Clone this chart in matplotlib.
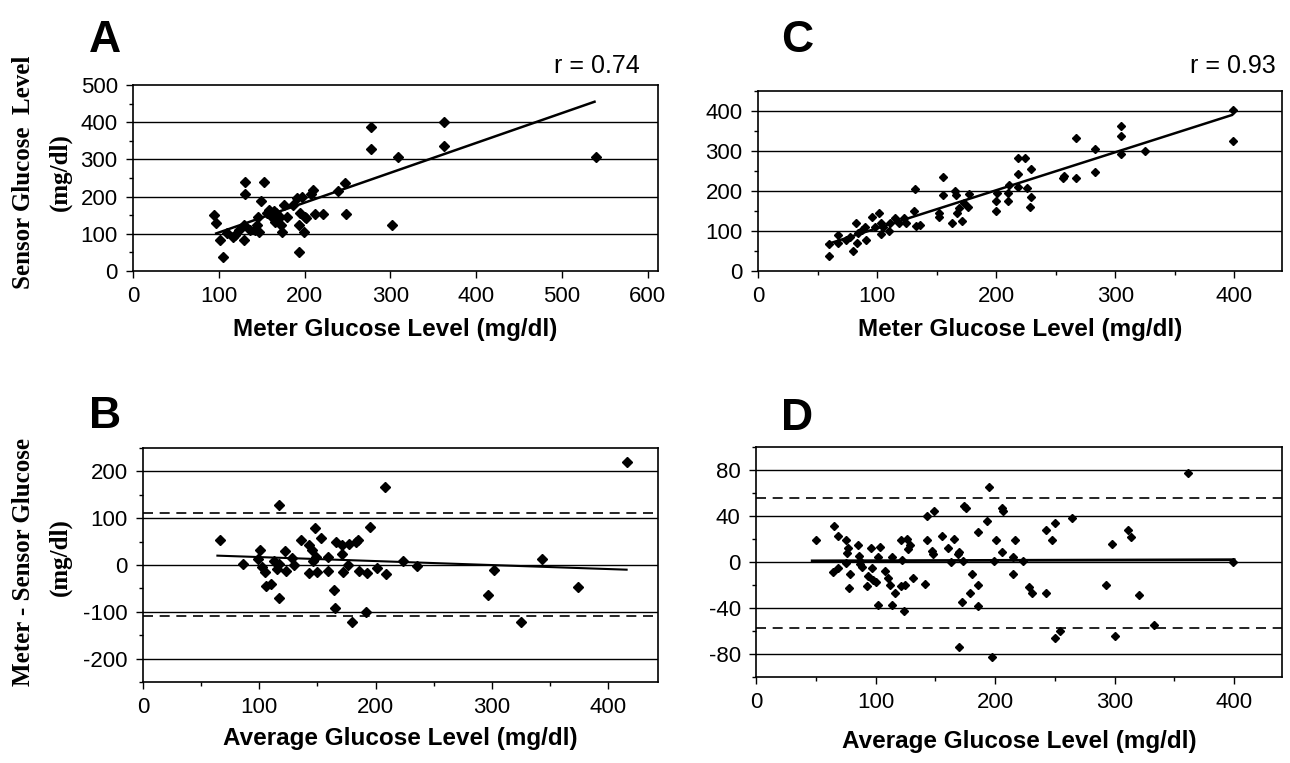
import numpy as np
import matplotlib
matplotlib.use('Agg')
from matplotlib import pyplot as plt
from matplotlib.ticker import MultipleLocator

plt.rcParams['font.family'] = ['Liberation Sans', 'DejaVu Sans']
plt.rcParams['axes.unicode_minus'] = False

# Panel A: meter vs sensor glucose (mg/dl)
a_meter = [94, 97, 101, 105, 110, 117, 119, 123, 129, 129, 131, 131, 136, 142, 144, 146, 147,
           149, 153, 156, 159, 162, 164, 165, 167, 171, 173, 174, 176, 179, 186, 191, 193, 193,
           195, 197, 199, 200, 202, 208, 210, 212, 222, 239, 247, 248, 277, 277, 302, 309, 362,
           362, 540]
a_sensor = [150, 128, 83, 37, 101, 92, 97, 110, 124, 83, 206, 239, 110, 110, 124, 146, 106,
            189, 239, 155, 164, 146, 160, 133, 155, 146, 124, 106, 177, 146, 177, 195, 124, 52,
            155, 200, 106, 146, 142, 207, 218, 153, 153, 216, 236, 153, 386, 329, 125, 306, 400,
            336, 307]
a_fit_x = [97, 538]
a_fit_y = [101, 455]
a_r = 'r = 0.74'

# Panel C: meter vs sensor glucose (mg/dl)
c_meter = [60, 60, 67, 67, 74, 77, 80, 82, 83, 84, 87, 90, 91, 96, 98, 102, 103, 103, 105, 110,
           111, 115, 118, 123, 124, 131, 132, 133, 136, 152, 152, 155, 155, 163, 165, 166, 167,
           169, 171, 173, 176, 177, 200, 200, 201, 210, 210, 211, 218, 218, 218, 224, 226, 228,
           229, 229, 256, 257, 267, 267, 283, 283, 305, 305, 305, 325, 399, 399]
c_sensor = [38, 68, 90, 71, 78, 86, 49, 120, 70, 95, 103, 111, 78, 135, 111, 146, 120, 93, 111,
            99, 120, 132, 120, 132, 121, 149, 206, 113, 115, 136, 145, 236, 190, 121, 201, 190,
            145, 157, 126, 169, 161, 193, 149, 174, 196, 174, 194, 215, 211, 242, 282, 283, 207,
            161, 184, 255, 232, 238, 232, 333, 305, 247, 337, 362, 292, 301, 402, 325]
c_fit_x = [58, 398]
c_fit_y = [67, 390]
c_r = 'r = 0.93'

# Panel B: average vs difference (mg/dl)
b_avg = [66, 86, 99, 101, 102, 105, 106, 110, 113, 115, 117, 117, 117, 122, 123, 128, 130, 136,
         143, 143, 145, 146, 148, 149, 150, 153, 159, 159, 164, 165, 166, 171, 171, 172, 176,
         177, 180, 183, 185, 186, 192, 193, 195, 201, 208, 209, 224, 236, 297, 302, 325, 343,
         374, 416]
b_diff = [54, 2, 13, 32, -5, -14, -44, -41, 9, -9, 128, -70, 2, 29, -12, 16, -1, 54, 43, -17,
          33, 9, 79, 18, -14, 57, 18, -12, -54, -91, 50, 42, 24, -16, -1, 44, -122, 50, 54, -12,
          -100, -17, 82, -6, 166, -19, 9, -3, -64, -11, -121, 13, -47, 221]
b_fit_x = [64, 416]
b_fit_y = [20, -10]
b_limits = [111, -109]

# Panel D: average vs difference (mg/dl)
d_avg = [50, 65, 64, 69, 69, 75, 76, 77, 75, 79, 78, 85, 86, 87, 87, 89, 93, 94, 96, 97, 98,
         100, 102, 102, 104, 108, 110, 112, 114, 114, 116, 121, 122, 121, 124, 125, 126, 129,
         127, 131, 141, 143, 143, 147, 148, 149, 156, 161, 163, 166, 169, 170, 170, 172, 173,
         174, 176, 179, 181, 186, 186, 186, 193, 195, 197, 199, 201, 206, 207, 206, 215, 215,
         217, 223, 228, 231, 243, 243, 248, 250, 250, 254, 264, 293, 298, 300, 311, 314, 320,
         333, 361, 399]
d_diff = [19, 31, -9, 23, -5, 19, 8, 12, -1, -10, -23, 15, 5, -2, 1, -4, -21, -12, 12, -5, -16,
          -17, 4, -37, 13, -8, -14, -20, 4, -37, -27, 19, 2, -21, -43, -20, 20, 15, 11, -14, -19,
          40, 19, 10, 7, 44, 23, 12, 0, 20, 7, 9, -74, -35, 1, 49, 47, -27, -10, -20, -38, 26,
          36, 65, -83, 1, 19, 47, 44, 9, 4, -10, 19, 1, -22, -27, -27, 28, 19, 34, -66, -60, 38,
          -20, 16, -64, 28, 22, -29, -55, 77, 0]
d_fit_x = [47, 400]
d_fit_y = [1, 2]
d_limits = [56, -57]

W, H = 1290, 763
fig = plt.figure(figsize=(W / 100, H / 100), dpi=100)


def px_axes(left, top, right, bottom):
    return fig.add_axes([left / W, 1 - bottom / H, (right - left) / W, (bottom - top) / H])


def style(ax, xmax, xmajor, xminor, ylim, ymajor, yminor, grid):
    ax.xaxis.set_major_locator(MultipleLocator(xmajor))
    ax.xaxis.set_minor_locator(MultipleLocator(xminor))
    ax.yaxis.set_major_locator(MultipleLocator(ymajor))
    ax.yaxis.set_minor_locator(MultipleLocator(yminor))
    ax.set_xlim(0, xmax)
    ax.set_ylim(*ylim)
    ax.tick_params(which='major', direction='out', length=5, width=1, labelsize=16, pad=6)
    ax.tick_params(which='minor', direction='out', length=3, width=1)
    for s in ax.spines.values():
        s.set_linewidth(1.2)
    for g in grid:
        ax.axhline(g, color='black', lw=1, zorder=1)


axA = px_axes(133, 85, 658, 271)
style(axA, 612, 100, 100, (0, 500), 100, 50, [100, 200, 300, 400])
axA.plot(a_meter, a_sensor, 'D', color='black', ms=4.8, zorder=3)
axA.plot(a_fit_x, a_fit_y, color='black', lw=1.8, zorder=2)
axA.set_xlabel('Meter Glucose Level (mg/dl)', fontsize=17.5, weight='bold', labelpad=8)

axC = px_axes(758, 91, 1282, 271)
style(axC, 440, 100, 50, (0, 450), 100, 50, [100, 200, 300, 400])
axC.plot(c_meter, c_sensor, 'D', color='black', ms=4, zorder=3)
axC.plot(c_fit_x, c_fit_y, color='black', lw=1.8, zorder=2)
axC.set_xlabel('Meter Glucose Level (mg/dl)', fontsize=17.5, weight='bold', labelpad=8)

axB = px_axes(143, 448, 658, 682)
style(axB, 443, 100, 50, (-250, 250), 100, 50, [-200, -100, 0, 100, 200])
axB.plot(b_avg, b_diff, 'D', color='black', ms=4.8, zorder=3)
axB.plot(b_fit_x, b_fit_y, color='black', lw=1.5, zorder=2)
for lim in b_limits:
    axB.axhline(lim, color='black', lw=1.2, ls=(0, (6, 4)), zorder=2)
axB.set_xlabel('Average Glucose Level (mg/dl)', fontsize=17.5, weight='bold', labelpad=6)

axD = px_axes(756, 447, 1282, 677)
style(axD, 440, 100, 50, (-100, 100), 40, 20, [-80, -40, 0, 40, 80])
axD.plot(d_avg, d_diff, 'D', color='black', ms=4.4, zorder=3)
axD.plot(d_fit_x, d_fit_y, color='black', lw=2, zorder=2)
for lim in d_limits:
    axD.axhline(lim, color='black', lw=1.2, ls=(0, (6, 4)), zorder=2)
axD.set_xlabel('Average Glucose Level (mg/dl)', fontsize=17.5, weight='bold', labelpad=12)

# r values
fig.text(640 / W, 1 - 66 / H, a_r, ha='right', va='center', fontsize=18)
fig.text(1276 / W, 1 - 66 / H, c_r, ha='right', va='center', fontsize=18)

# panel letters
for letter, x, y in [('A', 105, 40), ('C', 797, 40), ('B', 105, 417), ('D', 797, 418)]:
    fig.text(x / W, 1 - y / H, letter, ha='center', va='center', fontsize=32, weight='heavy')

# shared y labels (serif, bold)
serif = ['Liberation Serif', 'DejaVu Serif']
fig.text(24 / W, 1 - 172 / H, 'Sensor Glucose  Level', rotation=90, ha='center', va='center',
         fontsize=18, weight='bold', family=serif)
fig.text(60 / W, 1 - 172 / H, '(mg/dl)', rotation=90, ha='center', va='center',
         fontsize=18, weight='bold', family=serif)
fig.text(24 / W, 1 - 562 / H, 'Meter - Sensor Glucose', rotation=90, ha='center', va='center',
         fontsize=18, weight='bold', family=serif)
fig.text(60 / W, 1 - 557 / H, '(mg/dl)', rotation=90, ha='center', va='center',
         fontsize=18, weight='bold', family=serif)

plt.savefig('out.png', dpi=100)
